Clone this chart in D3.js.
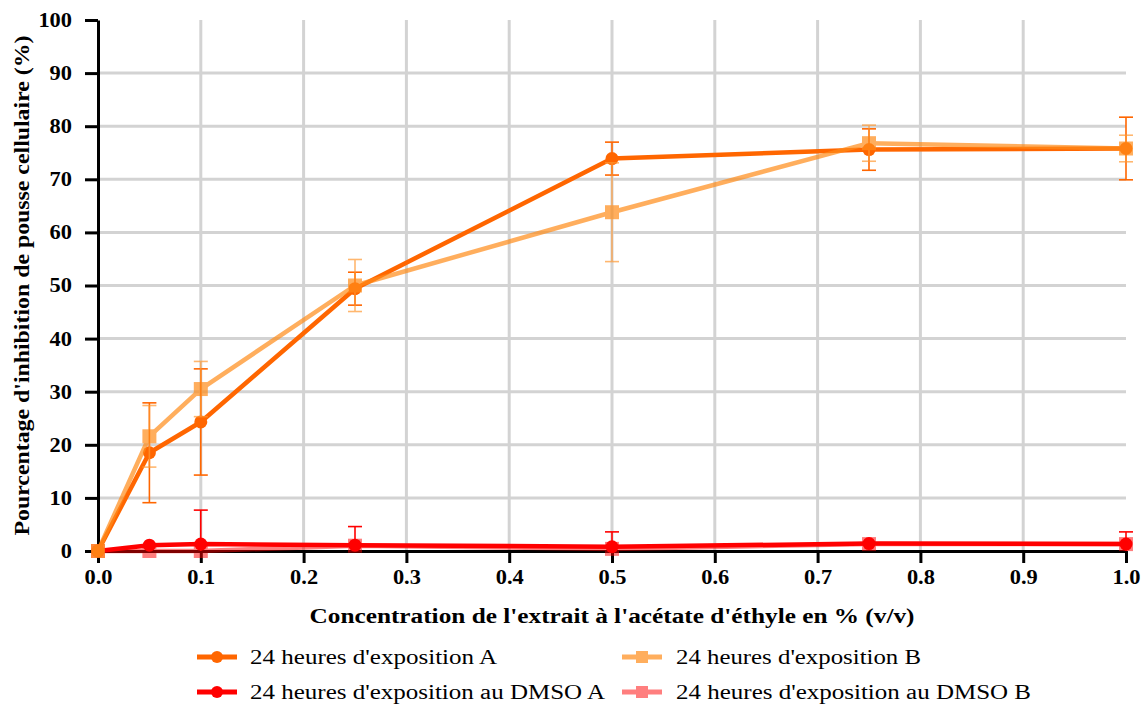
<!DOCTYPE html>
<html>
<head>
<meta charset="utf-8">
<script src="https://cdn.jsdelivr.net/npm/d3@7"></script>
<style>
  html, body { margin: 0; padding: 0; background: #fff; }
  svg { display: block; }
  text { font-family: "Liberation Serif", Tinos, "Times New Roman", Times, "DejaVu Serif", serif; }
</style>
</head>
<body>
<svg id="chart" width="1142" height="704"></svg>
<script>
// ---- data ----
const concentrations = [0, 0.05, 0.1, 0.25, 0.5, 0.75, 1.0];
const seriesNames = [
  "24 heures d'exposition A",
  "24 heures d'exposition B",
  "24 heures d'exposition au DMSO A",
  "24 heures d'exposition au DMSO B"
];
const expoA     = [0, 18.5, 24.3, 49.4, 73.9, 75.6, 75.8];
const expoAErr  = [0, 9.4, 10.0, 3.1, 3.1, 3.9, 5.9];
const expoB     = [0, 21.6, 30.5, 50.0, 63.8, 76.8, 75.8];
const expoBErr  = [0, 5.8, 5.2, 4.9, 9.3, 3.4, 2.5];
const dmsoA     = [0, 1.1, 1.3, 1.1, 0.8, 1.4, 1.3];
const dmsoAErr  = [0, 0, 6.4, 3.5, 2.8, 0, 2.3];
const dmsoB     = [0, 0.0, 0.0, 1.0, 0.4, 1.3, 1.3];
const dmsoBErr  = [0, 0, 0, 0, 0, 0, 0];
const xTicks = [0, 0.1, 0.2, 0.3, 0.4, 0.5, 0.6, 0.7, 0.8, 0.9, 1.0];
const yTicks = [0, 10, 20, 30, 40, 50, 60, 70, 80, 90, 100];
const xTitle = "Concentration de l'extrait à l'acétate d'éthyle en % (v/v)";
const yTitle = "Pourcentage d'inhibition de pousse cellulaire (%)";

// ---- layout ----
const svg = d3.select("#chart");
const x = d3.scaleLinear().domain([0, 1]).range([98, 1126]);
const y = d3.scaleLinear().domain([0, 100]).range([551, 20]);
const serif = "\"Liberation Serif\", Tinos, \"Times New Roman\", Times, \"DejaVu Serif\", serif";

svg.append("defs").append("clipPath").attr("id", "plotclip")
  .append("rect").attr("x", 0).attr("y", 0).attr("width", 1142).attr("height", y(0));

// grid
const grid = svg.append("g");
grid.selectAll("line.h").data(yTicks.filter(d => d > 0 && d < 100)).join("line")
  .attr("x1", x(0)).attr("x2", x(1))
  .attr("y1", d => y(d)).attr("y2", d => y(d))
  .attr("stroke", "#d3d3d3").attr("stroke-width", 3);
grid.selectAll("line.v").data(xTicks.filter(d => d > 0 && d < 1)).join("line")
  .attr("x1", d => x(d)).attr("x2", d => x(d))
  .attr("y1", y(0)).attr("y2", y(100))
  .attr("stroke", "#d3d3d3").attr("stroke-width", 3);

// axes
const xAxis = svg.append("g").attr("transform", `translate(0,${y(0)})`)
  .call(d3.axisBottom(x).tickValues(xTicks).tickFormat(d3.format(".1f")).tickSize(12).tickSizeOuter(0).tickPadding(7));
const yAxis = svg.append("g").attr("transform", `translate(${x(0)},0)`)
  .call(d3.axisLeft(y).tickValues(yTicks).tickFormat(d3.format("d")).tickSize(13).tickSizeOuter(0).tickPadding(13));
[xAxis, yAxis].forEach(a => {
  a.attr("font-family", null);
  a.select(".domain").attr("stroke", "#000").attr("stroke-width", 3);
  a.selectAll(".tick line").attr("stroke", "#000").attr("stroke-width", 3);
  a.selectAll(".tick text").attr("fill", "#000")
    .style("font-family", serif).style("font-weight", "bold").style("font-size", "20px")
    .each(function () {
      const w = this.getComputedTextLength();
      d3.select(this).attr("textLength", w * 1.12).attr("lengthAdjust", "spacingAndGlyphs");
    });
});

// titles
svg.append("text").attr("x", 612).attr("y", 623).attr("text-anchor", "middle")
  .style("font-family", serif).style("font-weight", "bold").style("font-size", "20px")
  .attr("textLength", 605).attr("lengthAdjust", "spacingAndGlyphs")
  .text(xTitle);
svg.append("text").attr("transform", `translate(29,${y(50)}) rotate(-90)`).attr("text-anchor", "middle")
  .style("font-family", serif).style("font-weight", "bold").style("font-size", "20px")
  .attr("textLength", 500).attr("lengthAdjust", "spacingAndGlyphs")
  .text(yTitle);

// series definitions
const series = [
  { name: seriesNames[3], vals: dmsoB, err: dmsoBErr, color: "#ff0000", opacity: 0.5, errColor: "#ff6666", shape: "square" },
  { name: seriesNames[2], vals: dmsoA, err: dmsoAErr, color: "#ff0000", opacity: 1, errColor: "#ff0000", shape: "circle" },
  { name: seriesNames[0], vals: expoA, err: expoAErr, color: "#ff6600", opacity: 1, errColor: "#ff6600", shape: "circle" },
  { name: seriesNames[1], vals: expoB, err: expoBErr, color: "#ff8c1a", opacity: 0.7, errColor: "#ff9933", shape: "square" }
];

const line = d3.line().x(d => x(d.c)).y(d => y(d.v));

series.forEach(s => {
  const pts = concentrations.map((c, i) => ({ c, v: s.vals[i], e: s.err[i] }));
  const g = svg.append("g").attr("opacity", s.opacity);
  const eb = g.append("g").attr("clip-path", "url(#plotclip)")
    .selectAll("g.eb").data(pts.filter(p => p.e > 0)).join("g");
  eb.append("line").attr("x1", p => x(p.c)).attr("x2", p => x(p.c))
    .attr("y1", p => y(p.v - p.e)).attr("y2", p => y(p.v + p.e))
    .attr("stroke", s.errColor).attr("stroke-width", 1.6);
  [1, -1].forEach(sign => {
    eb.append("line").attr("x1", p => x(p.c) - 7).attr("x2", p => x(p.c) + 7)
      .attr("y1", p => y(p.v + sign * p.e)).attr("y2", p => y(p.v + sign * p.e))
      .attr("stroke", s.errColor).attr("stroke-width", 1.6);
  });
  g.append("path").datum(pts).attr("d", line)
    .attr("fill", "none").attr("stroke", s.color).attr("stroke-width", 4.5)
    .attr("stroke-linejoin", "round");
  if (s.shape === "circle") {
    g.selectAll("circle").data(pts).join("circle")
      .attr("cx", p => x(p.c)).attr("cy", p => y(p.v)).attr("r", 6.5).attr("fill", s.color);
  } else {
    g.selectAll("rect").data(pts).join("rect")
      .attr("x", p => x(p.c) - 7).attr("y", p => y(p.v) - 7)
      .attr("width", 14).attr("height", 14).attr("fill", s.color);
  }
});

// legend
const legendItems = [
  { s: series[2], lx: 197, ly: 657, tl: 247 },
  { s: series[3], lx: 622, ly: 657, tl: 245 },
  { s: series[1], lx: 197, ly: 692, tl: 355 },
  { s: series[0], lx: 622, ly: 692, tl: 355 }
];
legendItems.forEach(it => {
  const g = svg.append("g");
  const sg = g.append("g").attr("opacity", it.s.opacity);
  sg.append("line").attr("x1", it.lx).attr("x2", it.lx + 40).attr("y1", it.ly).attr("y2", it.ly)
    .attr("stroke", it.s.color).attr("stroke-width", 5);
  if (it.s.shape === "circle") {
    sg.append("circle").attr("cx", it.lx + 20).attr("cy", it.ly).attr("r", 6).attr("fill", it.s.color);
  } else {
    sg.append("rect").attr("x", it.lx + 14).attr("y", it.ly - 6).attr("width", 12).attr("height", 12).attr("fill", it.s.color);
  }
  g.append("text").attr("x", it.lx + (it.lx < 400 ? 53 : 54)).attr("y", it.ly + 7)
    .style("font-family", serif).style("font-size", "20px").attr("fill", "#000")
    .attr("textLength", it.tl).attr("lengthAdjust", "spacingAndGlyphs")
    .text(it.s.name);
});
</script>
</body>
</html>
